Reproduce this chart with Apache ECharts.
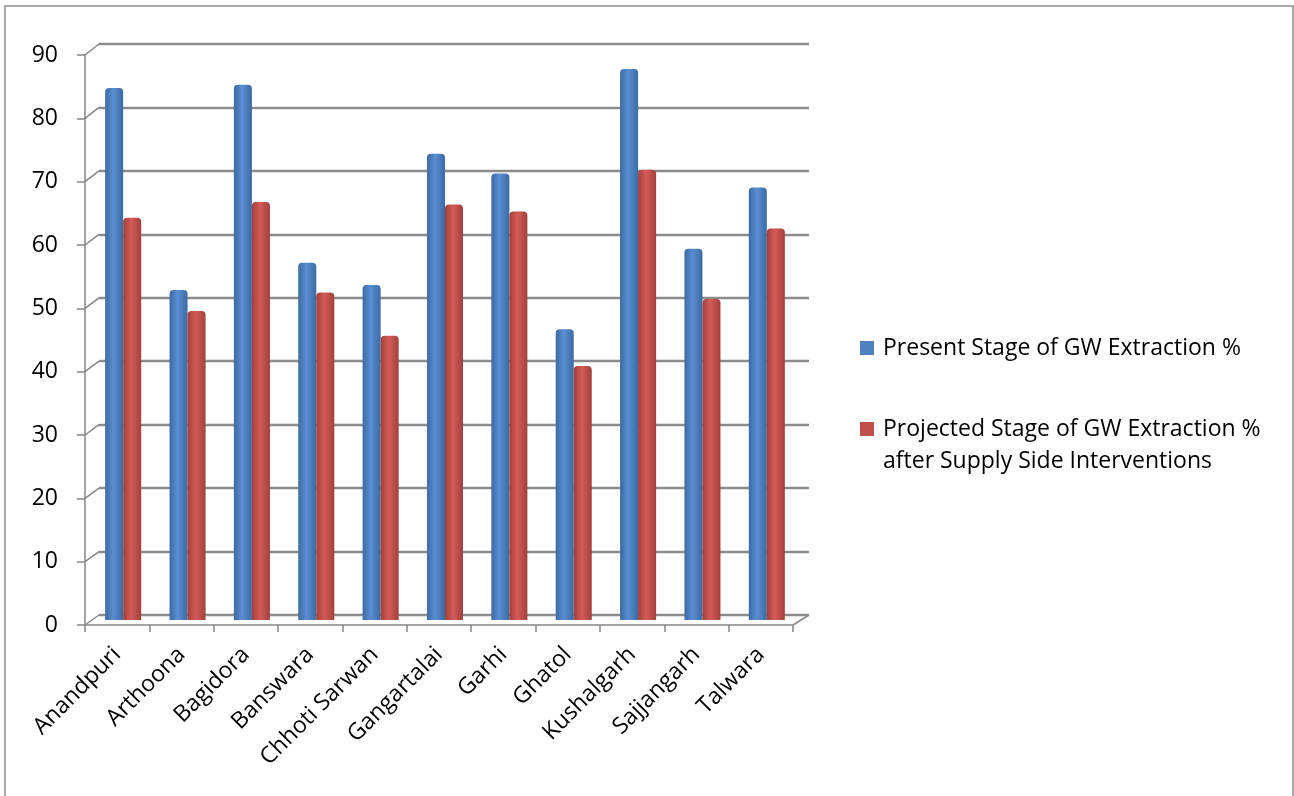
<!DOCTYPE html>
<html>
<head>
<meta charset="utf-8">
<script src="https://cdn.jsdelivr.net/npm/echarts@6/dist/echarts.min.js"></script>
<style>
  html, body { margin: 0; padding: 0; background: #fff; }
  #chart { width: 1294px; height: 796px; }
</style>
</head>
<body>
<div id="chart"></div>
<script>
// Blocks of Banswara district
const blocks = ['Anandpuri', 'Arthoona', 'Bagidora', 'Banswara', 'Chhoti Sarwan',
  'Gangartalai', 'Garhi', 'Ghatol', 'Kushalgarh', 'Sajjangarh', 'Talwara'];

// Stage of ground-water extraction, %
const presentStage = [84.0, 52.1, 84.5, 56.4, 52.9, 73.6, 70.5, 45.9, 87.0, 58.6, 68.3];
const projectedStage = [63.5, 48.8, 66.0, 51.7, 44.9, 65.6, 64.5, 40.1, 71.1, 50.7, 61.8];

const seriesNames = ['Present Stage of GW Extraction %',
  'Projected Stage of GW Extraction %\nafter Supply Side Interventions'];

const yTicks = [0, 10, 20, 30, 40, 50, 60, 70, 80, 90];

const FONT = 'Open Sans';
const AXIS_GRAY = '#868686';
const GRID_GRAY = '#8c8c8c';
const BLUE = '#4f81bd';
const RED = '#c0504d';

// pseudo-3D layout: back wall, bar plane, front axis plane
const W = 1294, H = 796;
const back = { left: 99, right: W - 809, top: 44, bottom: H - 615 };
const mid = { left: 91, right: W - 799, top: 50, bottom: H - 620 };
const front = { left: 85, right: W - 793, top: 55, bottom: H - 625 };

function cylinder(dark, light) {
  return new echarts.graphic.LinearGradient(0, 0, 1, 0, [
    { offset: 0, color: dark },
    { offset: 0.45, color: light },
    { offset: 1, color: dark }
  ]);
}

const yBase = { type: 'value', min: 0, max: 90, interval: 10 };
const legendText = { fontFamily: FONT, fontSize: 23, color: '#000', lineHeight: 32, padding: [0, 0, 0, 4] };

const chart = echarts.init(document.getElementById('chart'));
chart.setOption({
  animation: false,
  textStyle: { fontFamily: FONT },
  grid: [
    Object.assign({}, back),
    Object.assign({}, mid),
    Object.assign({}, front)
  ],
  xAxis: [
    { type: 'category', data: blocks, gridIndex: 0, show: false },
    { type: 'category', data: blocks, gridIndex: 1, show: false },
    {
      type: 'category', data: blocks, gridIndex: 2,
      axisLine: { show: true, lineStyle: { color: AXIS_GRAY, width: 1.5 } },
      axisTick: { show: true, length: 7, lineStyle: { color: AXIS_GRAY, width: 1.5 } },
      axisLabel: {
        interval: 0, rotate: 45, margin: 26,
        fontFamily: FONT, fontSize: 23, color: '#000'
      },
      splitLine: { show: false }
    }
  ],
  yAxis: [
    Object.assign({}, yBase, {
      gridIndex: 0,
      axisLine: { show: false }, axisTick: { show: false }, axisLabel: { show: false },
      splitLine: { show: true, lineStyle: { color: GRID_GRAY, width: 2.4 } }
    }),
    Object.assign({}, yBase, { gridIndex: 1, show: false, splitLine: { show: false } }),
    Object.assign({}, yBase, {
      gridIndex: 2,
      axisLine: { show: true, lineStyle: { color: AXIS_GRAY, width: 1.5 } },
      axisTick: { show: true, length: 8, lineStyle: { color: AXIS_GRAY, width: 1.5 } },
      axisLabel: {
        margin: 27, fontFamily: FONT, fontSize: 23, color: '#000',
        customValues: yTicks
      },
      splitLine: { show: false }
    })
  ],
  legend: [
    {
      data: [{ name: seriesNames[0], itemStyle: { color: BLUE } }],
      orient: 'vertical', left: 855, top: 327,
      icon: 'rect', itemWidth: 14, itemHeight: 14,
      textStyle: legendText
    },
    {
      // leading blank line keeps the first text line level with the key
      data: [{ name: seriesNames[1], itemStyle: { color: RED } }],
      formatter: function (name) { return '\n' + name; },
      orient: 'vertical', left: 855, top: 376,
      icon: 'rect', itemWidth: 14, itemHeight: 14,
      textStyle: legendText
    }
  ],
  series: [
    {
      name: seriesNames[0], type: 'bar', xAxisIndex: 1, yAxisIndex: 1,
      data: presentStage, barGap: '0%', barCategoryGap: '44%',
      itemStyle: { color: cylinder('#3c6aa3', '#5a8fd2'), borderRadius: [4, 4, 0, 0] },
      z: 3
    },
    {
      name: seriesNames[1], type: 'bar', xAxisIndex: 1, yAxisIndex: 1,
      data: projectedStage, barGap: '0%', barCategoryGap: '44%',
      itemStyle: { color: cylinder('#a2403d', '#d35b57'), borderRadius: [4, 4, 0, 0] },
      z: 3
    }
  ]
});

// depth connectors between the front axis and the back wall, plus floor side and chart border
const extras = [];
yTicks.forEach(function (v) {
  const yf = chart.convertToPixel({ yAxisIndex: 2 }, v);
  const yb = chart.convertToPixel({ yAxisIndex: 0 }, v);
  extras.push({
    type: 'line', silent: true, z: 1,
    shape: { x1: front.left, y1: yf, x2: back.left, y2: yb },
    style: { stroke: AXIS_GRAY, lineWidth: 1.5 }
  });
});
const yf0 = chart.convertToPixel({ yAxisIndex: 2 }, 0);
const yb0 = chart.convertToPixel({ yAxisIndex: 0 }, 0);
extras.push({
  type: 'line', silent: true, z: 1,
  shape: { x1: W - front.right, y1: yf0, x2: W - back.right, y2: yb0 },
  style: { stroke: GRID_GRAY, lineWidth: 2 }
});
extras.push({
  type: 'rect', silent: true, z: 0,
  shape: { x: 5, y: 6, width: 1288, height: 800 },
  style: { fill: null, stroke: '#8c8c8c', lineWidth: 1.5 }
});
chart.setOption({ graphic: extras });
</script>
</body>
</html>
